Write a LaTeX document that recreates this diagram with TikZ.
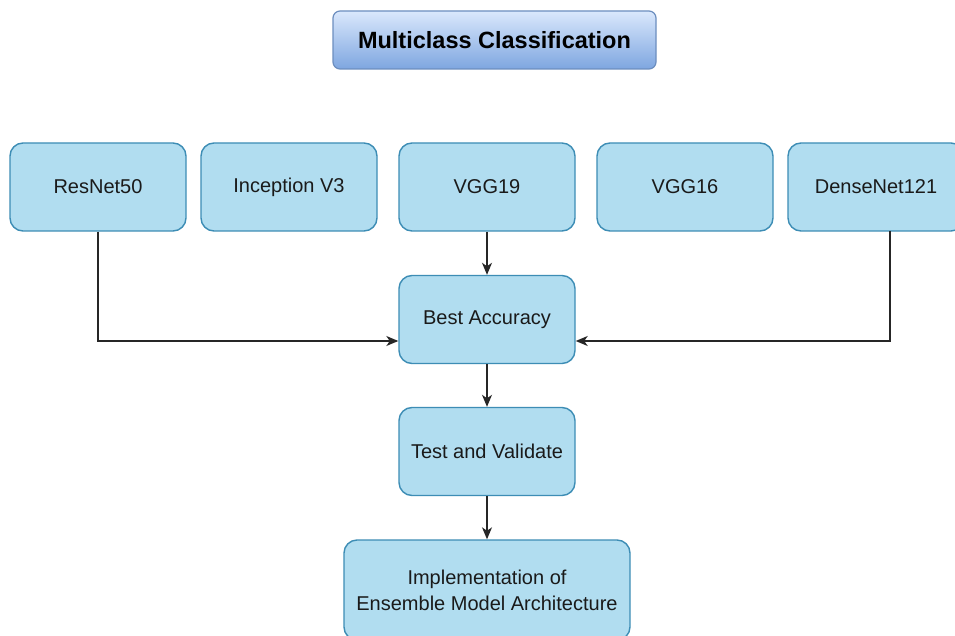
\documentclass[tikz,border=0pt]{standalone}
\usepackage{fontspec}
\setmainfont{Liberation Sans}
\usetikzlibrary{arrows.meta}
\definecolor{boxfill}{HTML}{B1DDF0}
\definecolor{boxline}{HTML}{3D8DB5}
\definecolor{titletop}{HTML}{DAE8FC}
\definecolor{titlebot}{HTML}{7EA6E0}
\definecolor{titleline}{HTML}{6C8EBF}
\definecolor{txt}{HTML}{1A1A1A}
\tikzset{
  model/.style={draw=boxline, line width=1.4pt, fill=boxfill, rounded corners=13pt,
    minimum width=176pt, minimum height=88pt, inner sep=0pt, align=center,
    text=txt, font=\fontsize{20}{26}\selectfont},
  titlebox/.style={draw=titleline, line width=1.2pt, rounded corners=7pt,
    top color=titletop, bottom color=titlebot, minimum width=323pt, minimum height=58pt,
    inner sep=0pt, font=\bfseries\fontsize{23.5}{28}\selectfont},
  link/.style={draw=black!85, line width=1.3pt, -{Stealth[length=12pt,width=10pt,inset=3.5pt]}},
  wire/.style={draw=black!85, line width=1.3pt}
}
\begin{document}
\begin{tikzpicture}[x=1pt,y=-1pt]
\path[use as bounding box, clip] (0,0) rectangle (955,636);
\fill[white] (0,0) rectangle (955,636);

\node[titlebox] (title) at (494.5,40) {Multiclass Classification};

\node[model] (resnet) at (98,187) {ResNet50};
\node[model] (incep) at (289,187) {Inception V3};
\node[model] (vgg19) at (487,187) {VGG19};
\node[model] (vgg16) at (685,187) {VGG16};
\node[model] (dense) at (876,187) {DenseNet121};

\node[model] (best) at (487,319.5) {Best Accuracy};
\node[model] (test) at (487,451.5) {Test and Validate};
\node[model, minimum width=286pt, minimum height=100pt] (impl) at (487,590)
  {Implementation of\\Ensemble Model Architecture};

\coordinate (rdrop) at (98,341);
\coordinate (dtop) at (890,231);
\coordinate (ddrop) at (890,341);

\draw[link] (resnet.south) -- (rdrop) -- (best.west |- rdrop);
\draw[link] (dtop) -- (ddrop) -- (best.east |- ddrop);
\draw[link] (vgg19.south) -- (best.north);
\draw[link] (best.south) -- (test.north);
\draw[link] (test.south) -- (impl.north);
\end{tikzpicture}
\end{document}
